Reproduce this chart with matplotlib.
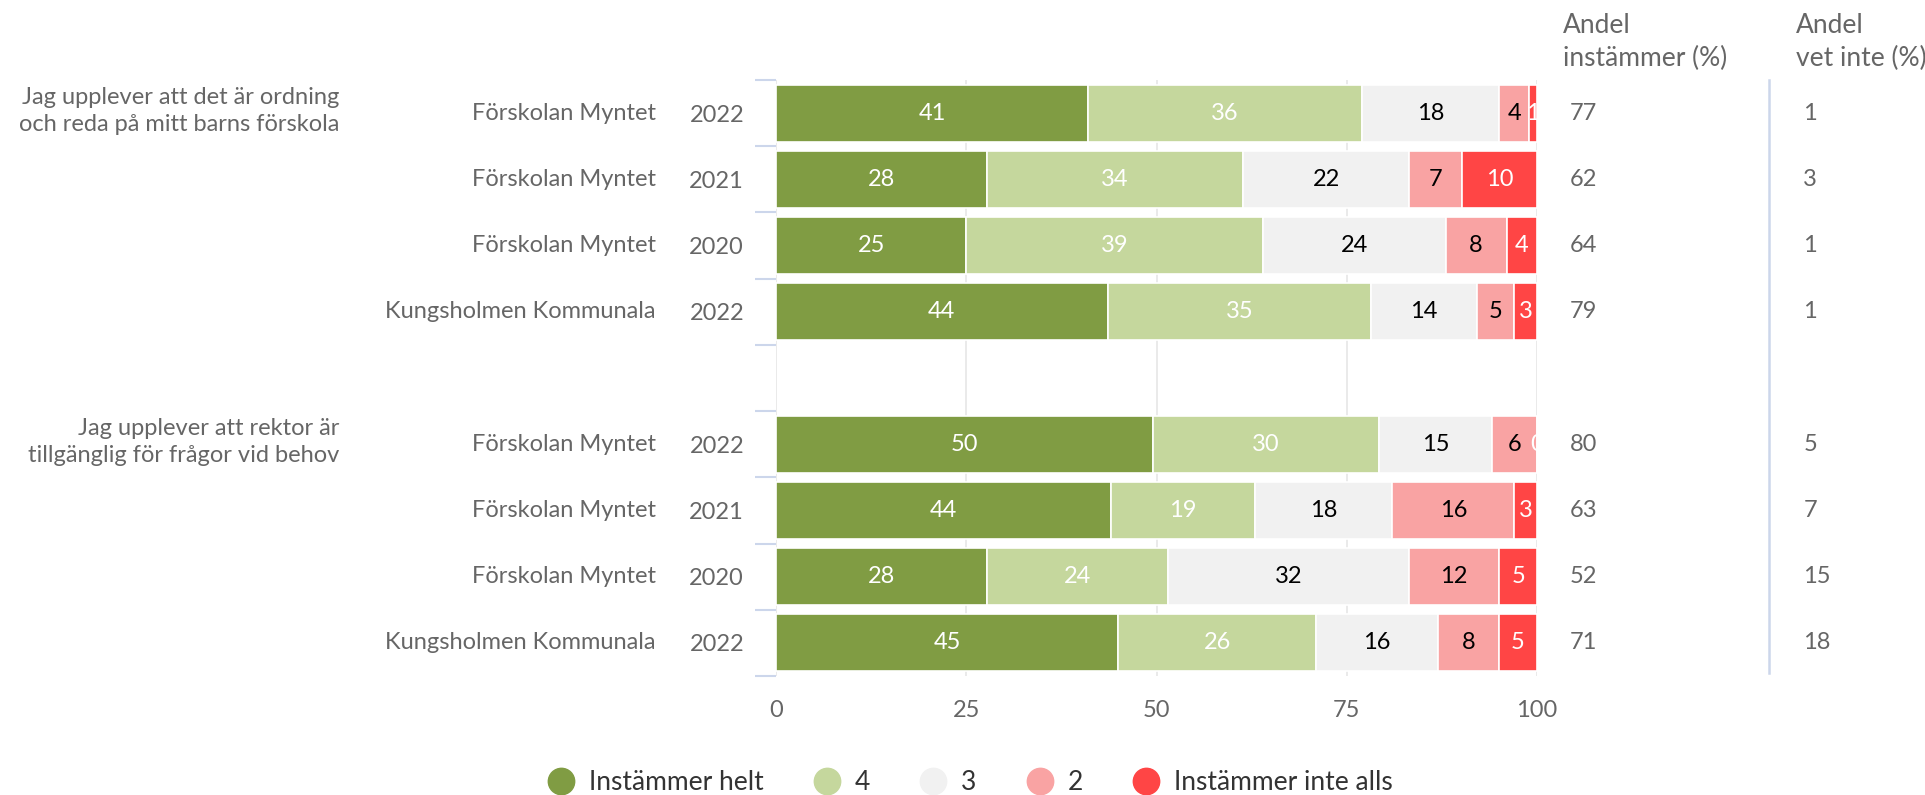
import matplotlib
matplotlib.use("Agg")
import matplotlib.pyplot as plt
from matplotlib.lines import Line2D
import numpy as np

plt.rcParams["font.family"] = ["Lato", "DejaVu Sans"]

# Data
questions = [
    "Jag upplever att det är ordning\noch reda på mitt barns förskola",
    "Jag upplever att rektor är\ntillgänglig för frågor vid behov",
]
units = ["Förskolan Myntet", "Förskolan Myntet", "Förskolan Myntet", "Kungsholmen Kommunala"] * 2
years = ["2022", "2021", "2020", "2022"] * 2
series_names = ["Instämmer helt", "4", "3", "2", "Instämmer inte alls"]
helt = [41, 28, 25, 44, 50, 44, 28, 45]
fyra = [36, 34, 39, 35, 30, 19, 24, 26]
tre = [18, 22, 24, 14, 15, 18, 32, 16]
tva = [4, 7, 8, 5, 6, 16, 12, 8]
inte_alls = [1, 10, 4, 3, 0, 3, 5, 5]
andel_instammer = [77, 62, 64, 79, 80, 63, 52, 71]
andel_vet_inte = [1, 3, 1, 1, 5, 7, 15, 18]

colors = ["#809c43", "#c5d79d", "#f1f1f1", "#f9a3a3", "#ff4545"]
label_colors = ["white", "white", "black", "black", "white"]
grey_text = "#666666"

# rows 0-3 first question, gap at 4, rows 5-8 second question
ypos = np.array([0, 1, 2, 3, 5, 6, 7, 8])
vals = np.array([helt, fyra, tre, tva, inte_alls], dtype=float)
pct = vals / vals.sum(axis=0) * 100  # percent stacking

fig = plt.figure(figsize=(19.25, 7.95), dpi=100)
ax = fig.add_axes([776 / 1925, 119 / 795, 761 / 1925, 596 / 795])

left = np.zeros(len(ypos))
for i in range(len(series_names)):
    bars = ax.barh(ypos, pct[i], left=left, height=0.86, color=colors[i],
                   edgecolor="white", linewidth=1.2, zorder=3)
    for j, bar in enumerate(bars):
        ax.text(left[j] + pct[i][j] / 2, ypos[j], f"{int(vals[i][j])}",
                ha="center", va="center", fontsize=17, color=label_colors[i],
                zorder=4, clip_on=True)
    left += pct[i]

ax.set_xlim(0, 100)
ax.set_ylim(8.5, -0.5)
ax.set_xticks([0, 25, 50, 75, 100])
ax.grid(axis="x", color="#e6e6e6", linewidth=1.2, zorder=0)
ax.set_axisbelow(True)
for s in ax.spines.values():
    s.set_visible(False)
ax.tick_params(axis="x", length=0, pad=17, labelsize=17, labelcolor=grey_text)

# years as tick labels, small ticks between rows
ax.set_yticks(ypos)
ax.set_yticklabels(years)
ax.tick_params(axis="y", which="major", length=0, pad=23, labelsize=17, labelcolor=grey_text)
ax.set_yticks(np.arange(-0.5, 9, 1), minor=True)
ax.tick_params(axis="y", which="minor", length=15, width=1.5, color="#ccd6eb")

for j, y in enumerate(ypos):
    ax.text(-0.158, y, units[j], transform=ax.get_yaxis_transform(),
            ha="right", va="center", fontsize=17, color=grey_text)
    ax.text(1.043, y, f"{andel_instammer[j]}", transform=ax.get_yaxis_transform(),
            ha="left", va="center", fontsize=17, color=grey_text)
    ax.text(1.350, y, f"{andel_vet_inte[j]}", transform=ax.get_yaxis_transform(),
            ha="left", va="center", fontsize=17, color=grey_text)

for q, y in zip(questions, [ypos[0], ypos[4]]):
    ax.text(-0.574, y - 0.03, q, transform=ax.get_yaxis_transform(),
            ha="right", va="center", fontsize=17, color=grey_text, linespacing=1.35)

ax.text(1.034, 1.064, "Andel\ninstämmer (%)", transform=ax.transAxes,
        ha="left", va="center", fontsize=19, color=grey_text, linespacing=1.4)
ax.text(1.340, 1.064, "Andel\nvet inte (%)", transform=ax.transAxes,
        ha="left", va="center", fontsize=19, color=grey_text, linespacing=1.4)
ax.plot([1.305, 1.305], [0.005, 1.0], transform=ax.transAxes, clip_on=False,
        color="#ccd6eb", linewidth=1.8)

handles = [Line2D([], [], marker="o", linestyle="none", markersize=19,
                  markerfacecolor=c, markeredgecolor=c) for c in colors]
fig.legend(handles, series_names, loc="center", bbox_to_anchor=(0.504, 0.016),
           ncol=5, frameon=False, fontsize=19, handlelength=1.0,
           handletextpad=0.55, columnspacing=1.9, labelcolor="#333333")

fig.savefig("out.png", dpi=100)
